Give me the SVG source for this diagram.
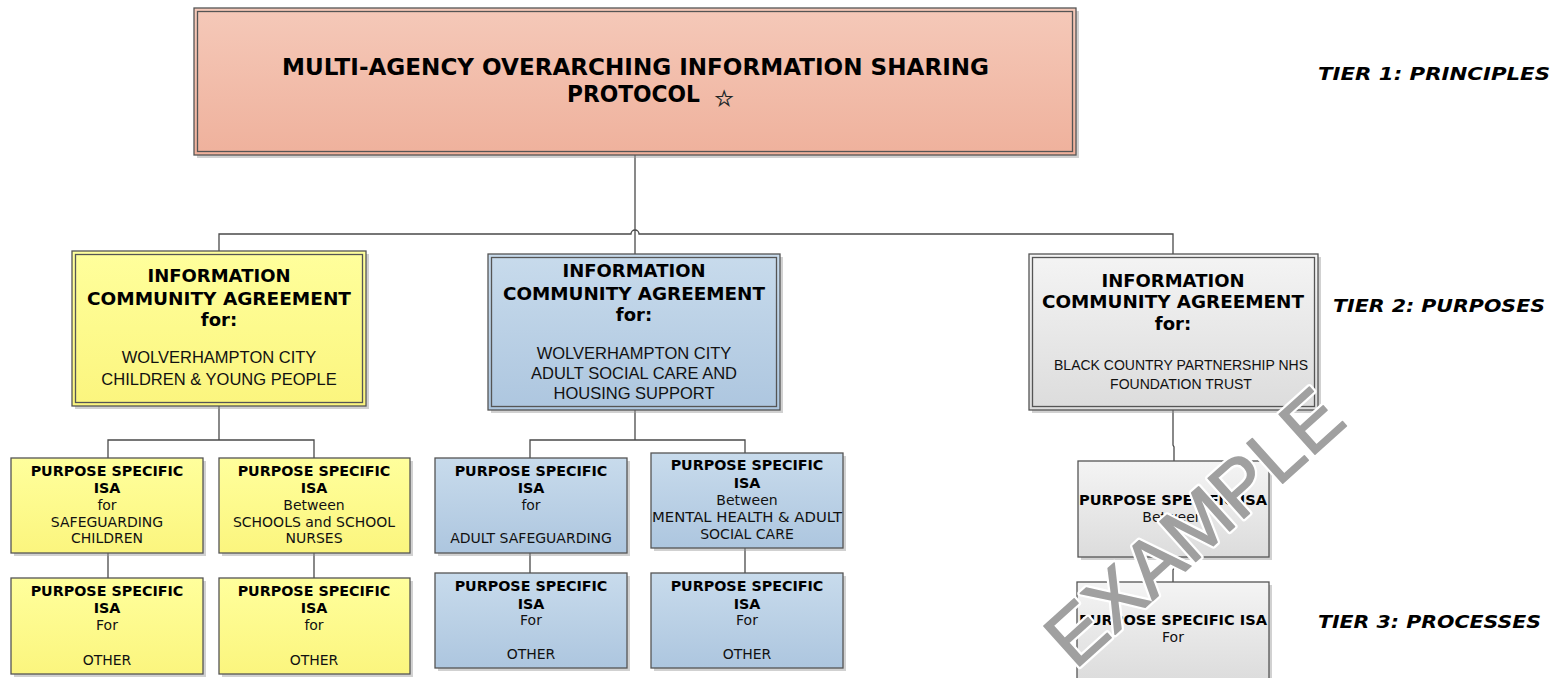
<svg xmlns="http://www.w3.org/2000/svg" width="1557" height="678" viewBox="0 0 1557 678">
<defs>
<linearGradient id="gSalmon" x1="0" y1="0" x2="0" y2="1"><stop offset="0" stop-color="#f5c9b9"/><stop offset="1" stop-color="#efb19c"/></linearGradient>
<linearGradient id="gYellow" x1="0" y1="0" x2="0" y2="1"><stop offset="0" stop-color="#ffff9c"/><stop offset="1" stop-color="#fbf57e"/></linearGradient>
<linearGradient id="gBlue" x1="0" y1="0" x2="0" y2="1"><stop offset="0" stop-color="#c8dbec"/><stop offset="1" stop-color="#adc6df"/></linearGradient>
<linearGradient id="gGrey" x1="0" y1="0" x2="0" y2="1"><stop offset="0" stop-color="#f4f4f4"/><stop offset="1" stop-color="#dcdcdc"/></linearGradient>
</defs>
<style>
.sh{fill:#9a9a9a;opacity:0.45}
.bx{stroke:#555;stroke-width:1.3}
.in{fill:none;stroke:#555;stroke-width:1.3}
.con{fill:none;stroke:#4a4a4a;stroke-width:1.3}
.title{font-family:"DejaVu Sans",Verdana,sans-serif;font-weight:bold;font-size:23px;fill:#000;text-anchor:middle}
.h2{font-family:"DejaVu Sans",Verdana,sans-serif;font-weight:bold;font-size:18px;fill:#000;text-anchor:middle}
.t2{font-family:"Liberation Sans",Arial,sans-serif;font-size:16.5px;fill:#111;text-anchor:middle}
.t2s{font-family:"Liberation Sans",Arial,sans-serif;font-size:14px;fill:#111;text-anchor:middle}
.h3{font-family:"DejaVu Sans",Verdana,sans-serif;font-weight:bold;font-size:14.3px;fill:#000;text-anchor:middle}
.t3{font-family:"DejaVu Sans",Verdana,sans-serif;font-size:14px;fill:#111;text-anchor:middle}
.tier{font-family:"DejaVu Sans",Verdana,sans-serif;font-weight:bold;font-style:italic;font-size:18px;fill:#000}
.wm{font-family:"Liberation Sans",Arial,sans-serif;font-size:78px;text-anchor:middle;stroke-linejoin:round}
</style>

<g id="connectors">
<path class="con" d="M635,155 V234"/>
<path class="con" d="M219,251 V234 H631 A4,4 0 0 1 639,234 H1173 V254"/>
<path class="con" d="M635,234 V254"/>
<path class="con" d="M219,406 V440 M108,458 V440 H314 V458"/>
<path class="con" d="M635,410 V440 M530,458 V440 H745 V453"/>
<path class="con" d="M1173,410 V445 L1174,447 V461"/>
<path class="con" d="M108,553 V578 M314,553 V578 M530,553 V573 M745,548 V573"/>
<path class="con" d="M1174,557 V568 L1173,570 V582"/>
</g>

<g id="tier1">
<rect class="sh" x="197" y="11" width="882" height="147"/>
<rect class="bx" x="194" y="8" width="882" height="147" fill="url(#gSalmon)"/>
<rect class="in" x="197.5" y="11.5" width="875" height="140"/>
<text class="title" x="635.5" y="74.5" textLength="707" lengthAdjust="spacingAndGlyphs">MULTI-AGENCY OVERARCHING INFORMATION SHARING</text>
<text class="title" x="633.5" y="102" textLength="133" lengthAdjust="spacingAndGlyphs">PROTOCOL</text>
<text x="724" y="106" font-family="DejaVu Sans,sans-serif" font-size="22" fill="#fff" stroke="#222" stroke-width="0.6" text-anchor="middle">☆</text>
</g>

<g id="ica-children">
<rect class="sh" x="75" y="254" width="294" height="155"/>
<rect class="bx" x="72" y="251" width="294" height="155" fill="url(#gYellow)"/>
<rect class="in" x="75.5" y="254.5" width="287" height="148"/>
<text class="h2" x="219" y="282">INFORMATION</text>
<text class="h2" x="219" y="305" textLength="264" lengthAdjust="spacingAndGlyphs">COMMUNITY AGREEMENT</text>
<text class="h2" x="219" y="326">for:</text>
<text class="t2" x="219" y="363">WOLVERHAMPTON CITY</text>
<text class="t2" x="219" y="385">CHILDREN &amp; YOUNG PEOPLE</text>
</g>

<g id="ica-adult">
<rect class="sh" x="491" y="257" width="292" height="156"/>
<rect class="bx" x="488" y="254" width="292" height="156" fill="url(#gBlue)"/>
<rect class="in" x="491.5" y="257.5" width="285" height="149"/>
<text class="h2" x="634" y="277">INFORMATION</text>
<text class="h2" x="634" y="300" textLength="262" lengthAdjust="spacingAndGlyphs">COMMUNITY AGREEMENT</text>
<text class="h2" x="634" y="321">for:</text>
<text class="t2" x="634" y="359">WOLVERHAMPTON CITY</text>
<text class="t2" x="634" y="379">ADULT SOCIAL CARE AND</text>
<text class="t2" x="634" y="399">HOUSING SUPPORT</text>
</g>

<g id="ica-bcpft">
<rect class="sh" x="1032" y="257" width="289" height="156"/>
<rect class="bx" x="1029" y="254" width="289" height="156" fill="url(#gGrey)"/>
<rect class="in" x="1032.5" y="257.5" width="282" height="149"/>
<text class="h2" x="1173" y="287">INFORMATION</text>
<text class="h2" x="1173" y="308" textLength="262" lengthAdjust="spacingAndGlyphs">COMMUNITY AGREEMENT</text>
<text class="h2" x="1173" y="330">for:</text>
<text class="t2s" x="1181" y="370" textLength="254" lengthAdjust="spacingAndGlyphs">BLACK COUNTRY PARTNERSHIP NHS</text>
<text class="t2s" x="1181" y="389">FOUNDATION TRUST</text>
</g>

<g id="isa-safeguarding-children">
<rect class="sh" x="14" y="461" width="192" height="95"/>
<rect class="bx" x="11" y="458" width="192" height="95" fill="url(#gYellow)"/>
<text class="h3" x="107" y="476">PURPOSE SPECIFIC</text>
<text class="h3" x="107" y="493">ISA</text>
<text class="t3" x="107" y="510">for</text>
<text class="t3" x="107" y="527">SAFEGUARDING</text>
<text class="t3" x="107" y="543">CHILDREN</text>
</g>

<g id="isa-schools">
<rect class="sh" x="222" y="461" width="191" height="95"/>
<rect class="bx" x="219" y="458" width="191" height="95" fill="url(#gYellow)"/>
<text class="h3" x="314" y="476">PURPOSE SPECIFIC</text>
<text class="h3" x="314" y="493">ISA</text>
<text class="t3" x="314" y="510">Between</text>
<text class="t3" x="314" y="527">SCHOOLS and SCHOOL</text>
<text class="t3" x="314" y="543">NURSES</text>
</g>

<g id="isa-children-other">
<rect class="sh" x="14" y="581" width="192" height="96"/>
<rect class="bx" x="11" y="578" width="192" height="96" fill="url(#gYellow)"/>
<text class="h3" x="107" y="596">PURPOSE SPECIFIC</text>
<text class="h3" x="107" y="613">ISA</text>
<text class="t3" x="107" y="630">For</text>
<text class="t3" x="107" y="665">OTHER</text>
</g>

<g id="isa-schools-other">
<rect class="sh" x="222" y="581" width="191" height="96"/>
<rect class="bx" x="219" y="578" width="191" height="96" fill="url(#gYellow)"/>
<text class="h3" x="314" y="596">PURPOSE SPECIFIC</text>
<text class="h3" x="314" y="613">ISA</text>
<text class="t3" x="314" y="630">for</text>
<text class="t3" x="314" y="665">OTHER</text>
</g>

<g id="isa-adult-safeguarding">
<rect class="sh" x="438" y="461" width="192" height="95"/>
<rect class="bx" x="435" y="458" width="192" height="95" fill="url(#gBlue)"/>
<text class="h3" x="531" y="476">PURPOSE SPECIFIC</text>
<text class="h3" x="531" y="493">ISA</text>
<text class="t3" x="531" y="510">for</text>
<text class="t3" x="531" y="543">ADULT SAFEGUARDING</text>
</g>

<g id="isa-mental-health">
<rect class="sh" x="654" y="456" width="192" height="95"/>
<rect class="bx" x="651" y="453" width="192" height="95" fill="url(#gBlue)"/>
<text class="h3" x="747" y="470">PURPOSE SPECIFIC</text>
<text class="h3" x="747" y="488">ISA</text>
<text class="t3" x="747" y="505">Between</text>
<text class="t3" x="747" y="522" textLength="190" lengthAdjust="spacingAndGlyphs">MENTAL HEALTH &amp; ADULT</text>
<text class="t3" x="747" y="539">SOCIAL CARE</text>
</g>

<g id="isa-adult-other">
<rect class="sh" x="438" y="576" width="192" height="95"/>
<rect class="bx" x="435" y="573" width="192" height="95" fill="url(#gBlue)"/>
<text class="h3" x="531" y="591">PURPOSE SPECIFIC</text>
<text class="h3" x="531" y="609">ISA</text>
<text class="t3" x="531" y="625">For</text>
<text class="t3" x="531" y="659">OTHER</text>
</g>

<g id="isa-mh-other">
<rect class="sh" x="654" y="576" width="192" height="95"/>
<rect class="bx" x="651" y="573" width="192" height="95" fill="url(#gBlue)"/>
<text class="h3" x="747" y="591">PURPOSE SPECIFIC</text>
<text class="h3" x="747" y="609">ISA</text>
<text class="t3" x="747" y="625">For</text>
<text class="t3" x="747" y="659">OTHER</text>
</g>

<g id="isa-bcpft-between">
<rect class="sh" x="1081" y="464" width="191" height="96"/>
<rect class="bx" x="1078" y="461" width="191" height="96" fill="url(#gGrey)"/>
<text class="h3" x="1173" y="505" textLength="188" lengthAdjust="spacingAndGlyphs">PURPOSE SPECIFIC ISA</text>
<text class="t3" x="1173" y="522">Between</text>
</g>

<g id="isa-bcpft-for">
<rect class="sh" x="1080" y="585" width="192" height="100"/>
<rect class="bx" x="1077" y="582" width="192" height="100" fill="url(#gGrey)"/>
<text class="h3" x="1173" y="625" textLength="188" lengthAdjust="spacingAndGlyphs">PURPOSE SPECIFIC ISA</text>
<text class="t3" x="1173" y="642">For</text>
</g>

<g id="tier-labels">
<text class="tier" x="1318" y="80" textLength="232" lengthAdjust="spacingAndGlyphs">TIER 1: PRINCIPLES</text>
<text class="tier" x="1333" y="312" textLength="212" lengthAdjust="spacingAndGlyphs">TIER 2: PURPOSES</text>
<text class="tier" x="1318" y="628" textLength="223" lengthAdjust="spacingAndGlyphs">TIER 3: PROCESSES</text>
</g>

<g id="watermark">
<text class="wm" x="1212" y="547" transform="rotate(-42 1212 547)" fill="#fff" stroke="#fff" stroke-width="6">EXAMPLE</text>
<text class="wm" x="1212" y="547" transform="rotate(-42 1212 547)" fill="#a0a0a0" stroke="#a0a0a0" stroke-width="1.5">EXAMPLE</text>
</g>
</svg>
